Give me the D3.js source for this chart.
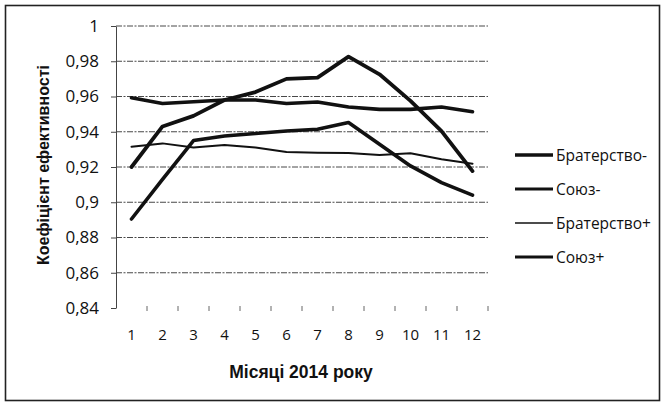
<!DOCTYPE html>
<html><head><meta charset="utf-8">
<script src="https://cdn.jsdelivr.net/npm/d3@7"></script>
<style>
html,body{margin:0;padding:0;background:#fff;}
svg{display:block;}
</style></head>
<body>
<svg id="chart" width="664" height="405"></svg>
<script>
const months = ["1","2","3","4","5","6","7","8","9","10","11","12"];
const yTicks = [0.84,0.86,0.88,0.9,0.92,0.94,0.96,0.98,1];
const seriesNames = ["Братерство-","Союз-","Братерство+","Союз+"];
const bratMinus = [0.920,0.943,0.949,0.958,0.9625,0.970,0.9707,0.9826,0.9726,0.9575,0.9404,0.9177];
const soyuzMinus = [0.9593,0.956,0.957,0.958,0.958,0.956,0.9569,0.954,0.9527,0.9527,0.954,0.9514];
const bratPlus = [0.9315,0.9334,0.931,0.9325,0.931,0.9285,0.9281,0.928,0.9268,0.9278,0.9244,0.9219];
const soyuzPlus = [0.8905,0.913,0.935,0.9376,0.939,0.9404,0.9414,0.9452,0.9329,0.9206,0.9111,0.904];
const seriesValues = [bratMinus, soyuzMinus, bratPlus, soyuzPlus];
const seriesWidths = [3.8, 3.6, 2.0, 3.6];
const legendWidths = [3.4, 3.0, 1.6, 3.2];

const svg = d3.select("#chart");
const L = 116, R = 488, T = 26, B = 308;

// frame
svg.append("rect").attr("x",5.5).attr("y",5.5).attr("width",654).attr("height",395)
  .attr("fill","none").attr("stroke","#222").attr("stroke-width",1.6);

const x = d3.scaleBand().domain(months).range([L,R]);
const y = d3.scaleLinear().domain([0.84,1]).range([B,T]);

// gridlines
svg.append("g").selectAll("line").data(yTicks.filter(v=>v>0.845)).join("line")
  .attr("x1",L).attr("x2",R).attr("y1",d=>y(d)).attr("y2",d=>y(d))
  .attr("stroke","#333").attr("stroke-width",0.9).attr("stroke-dasharray","6,1.5,2,1.5");

// y axis
const yAxis = svg.append("g").attr("transform",`translate(${L},0)`)
  .call(d3.axisLeft(y).tickValues(yTicks).tickSize(5).tickSizeOuter(0)
    .tickFormat(d=>d3.format("")(+d.toFixed(2)).replace(".",",")));
yAxis.select(".domain").attr("stroke","#444").attr("stroke-width",1);
yAxis.selectAll(".tick line").attr("stroke","#444");
yAxis.selectAll("text").attr("font-family","'Open Sans', sans-serif").attr("font-size",17)
  .attr("fill","#111").attr("x",-17);

// x axis
const xAxis = svg.append("g").attr("transform",`translate(0,${B})`)
  .call(d3.axisBottom(x).tickSize(0).tickSizeOuter(0));
xAxis.select(".domain").remove();
xAxis.selectAll("text").attr("font-family","'Open Sans', sans-serif").attr("font-size",15)
  .attr("fill","#111").attr("y",21);
// x boundary ticks
svg.append("g").selectAll("line").data(months.slice(1).concat(["end"])).join("line")
  .attr("x1",d=>d==="end"?R:x(d)).attr("x2",d=>d==="end"?R:x(d))
  .attr("y1",B-2).attr("y2",B+3).attr("stroke","#666").attr("stroke-width",1);

// lines
const line = d3.line().x((d,i)=>x(months[i])+x.bandwidth()/2).y(d=>y(d));
seriesValues.forEach((vals,i)=>{
  svg.append("path").datum(vals).attr("d",line).attr("fill","none")
    .attr("stroke","#111").attr("stroke-width",seriesWidths[i])
    .attr("stroke-linejoin","round").attr("stroke-linecap","round");
});

// axis titles
svg.append("text").attr("x",301).attr("y",378).attr("text-anchor","middle")
  .attr("font-family","'Liberation Sans', Arial, sans-serif").attr("font-weight","bold")
  .attr("font-size",17.5).attr("fill","#111").text("Місяці 2014 року");
svg.append("text").attr("transform","translate(49,165) rotate(-90)").attr("text-anchor","middle")
  .attr("font-family","'Liberation Sans', Arial, sans-serif").attr("font-weight","bold")
  .attr("font-size",17).attr("fill","#111")
  .attr("textLength",200).attr("lengthAdjust","spacingAndGlyphs")
  .text("Коефіцієнт ефективності");

// legend
const lg = svg.append("g");
seriesNames.forEach((n,i)=>{
  const yy = 155 + i*34;
  lg.append("line").attr("x1",515).attr("x2",553).attr("y1",yy).attr("y2",yy)
    .attr("stroke","#111").attr("stroke-width",legendWidths[i]);
  lg.append("text").attr("x",556).attr("y",yy).attr("dy","0.36em")
    .attr("font-family","'Open Sans', sans-serif").attr("font-size",15.5).attr("fill","#111").text(n);
});
</script>
</body></html>
